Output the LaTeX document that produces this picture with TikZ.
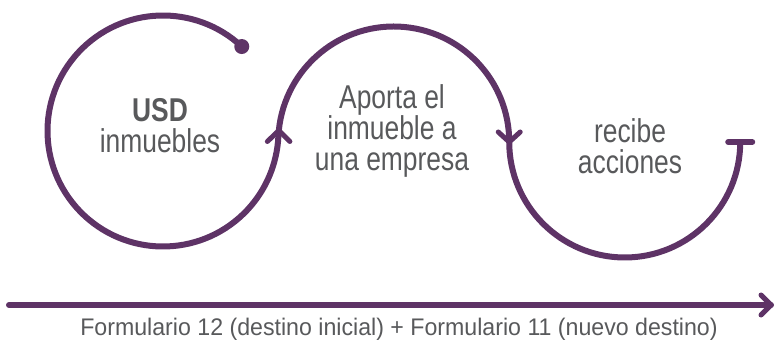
\documentclass[tikz,border=0pt]{standalone}
\usepackage{fontspec}
\setmainfont[FakeStretch=0.8]{Liberation Sans}
\newfontfamily\footfont[FakeStretch=0.965]{Liberation Sans}
\definecolor{violeta}{HTML}{5E3366}
\definecolor{gristexto}{HTML}{58595B}
\tikzset{
  flow/.style={draw=violeta, line width=6pt},
  chev/.style={draw=violeta, line width=5pt, line cap=round, line join=round},
  lbl/.style={text=gristexto, font=\fontsize{33}{31}\selectfont, align=center, inner sep=0pt},
  foot/.style={text=gristexto, font=\footfont\fontsize{24}{26}\selectfont, inner sep=0pt}
}
\begin{document}
\begin{tikzpicture}[x=1pt,y=1pt]
\useasboundingbox (0,0) rectangle (775,345);
\coordinate (c1) at (163,214);
\coordinate (c2) at (394,203);
\coordinate (c3) at (625,203);
% main wave
\draw[flow] (c1) ++(47:115.5) coordinate (s)
  arc[start angle=47, end angle=357.27, radius=115.5] coordinate (j1)
  arc[start angle=177.27, end angle=0, radius=115.5] coordinate (j2)
  arc[start angle=180, end angle=360, radius=115.5] coordinate (e);
\fill[violeta] (s) circle[radius=7.5];
% arrowheads
\draw[chev] ([shift={(-11,-5)}]j1) -- ([shift={(0.5,6)}]j1) -- ([shift={(11.5,-5)}]j1);
\draw[chev] ([shift={(-11,10)}]j2) -- ([shift={(0,0)}]j2) -- ([shift={(11,10)}]j2);
% end bar
\draw[violeta, line width=6pt, line cap=round] ([xshift=-12]e) -- ([xshift=12]e);
% texts
\node[lbl] (t1) at (160,219.5) {\textbf{USD}\\inmuebles};
\node[lbl] (t2) at (392,214.5) {Aporta el\\inmueble a\\una empresa};
\node[lbl] (t3) at (630,199) {recibe\\acciones};
% timeline
\coordinate (a0) at (9,40);
\coordinate (a1) at (771,40);
\draw[violeta, line width=6pt, line cap=round] (a0) -- (a1);
\draw[chev] ([shift={(-10,10)}]a1) -- (a1) -- ([shift={(-10,-10)}]a1);
\node[foot] (ft) at (399,16) {Formulario 12 (destino inicial) + Formulario 11 (nuevo destino)};
\end{tikzpicture}
\end{document}
